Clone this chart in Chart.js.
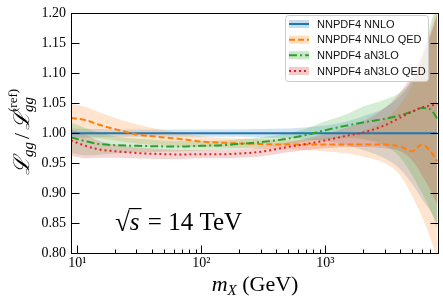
<!DOCTYPE html>
<html>
<head>
<meta charset="utf-8">
<script src="https://cdn.jsdelivr.net/npm/chart.js@4.4.1/dist/chart.umd.min.js"></script>
<style>
  html, body { margin: 0; padding: 0; background: #fff; }
  canvas { display: block; }
</style>
</head>
<body>
<canvas id="lumi" width="443" height="302"></canvas>
<script>
// ── data (m_X in GeV, ratio to reference lumi) ──
const mass = [8.9, 12, 15, 20, 30, 50, 70, 100, 150, 200, 300, 500, 700, 1000, 1500, 2000, 3000, 4000, 5000, 6000, 7000, 8000];

const nnlo     = [1, 1, 1, 1, 1, 1, 1, 1, 1, 1, 1, 1, 1, 1, 1, 1, 1, 1, 1, 1, 1, 1];
const nnloHi   = [1.008, 1.007, 1.007, 1.006, 1.006, 1.006, 1.006, 1.006, 1.006, 1.006, 1.007, 1.008, 1.010, 1.013, 1.020, 1.028, 1.042, 1.062, 1.088, 1.120, 1.160, 1.200];
const nnloLo   = [0.992, 0.993, 0.993, 0.994, 0.994, 0.994, 0.994, 0.994, 0.994, 0.994, 0.993, 0.992, 0.990, 0.987, 0.980, 0.972, 0.958, 0.940, 0.915, 0.890, 0.870, 0.850];

const nnloQed   = [1.026, 1.021, 1.014, 1.007, 0.998, 0.993, 0.990, 0.986, 0.984, 0.983, 0.982, 0.981, 0.981, 0.981, 0.981, 0.981, 0.981, 0.978, 0.970, 0.981, 0.970, 0.953];
const nnloQedHi = [1.049, 1.043, 1.035, 1.026, 1.015, 1.005, 1.000, 0.995, 0.992, 0.991, 0.990, 0.989, 0.990, 0.992, 0.997, 1.004, 1.022, 1.048, 1.080, 1.125, 1.170, 1.215];
const nnloQedLo = [1.002, 0.996, 0.992, 0.988, 0.983, 0.980, 0.978, 0.977, 0.976, 0.975, 0.974, 0.973, 0.972, 0.970, 0.966, 0.961, 0.950, 0.930, 0.895, 0.860, 0.825, 0.790];

const an3lo   = [0.993, 0.986, 0.982, 0.980, 0.979, 0.978, 0.978, 0.979, 0.980, 0.982, 0.985, 0.991, 0.997, 1.005, 1.013, 1.018, 1.024, 1.030, 1.036, 1.042, 1.040, 1.024];
const an3loHi = [1.018, 1.008, 1.001, 0.995, 0.991, 0.988, 0.987, 0.987, 0.988, 0.990, 0.993, 1.000, 1.008, 1.020, 1.032, 1.044, 1.056, 1.068, 1.090, 1.130, 1.180, 1.225];
const an3loLo = [0.967, 0.963, 0.964, 0.966, 0.968, 0.969, 0.970, 0.971, 0.972, 0.974, 0.977, 0.982, 0.986, 0.990, 0.992, 0.990, 0.980, 0.960, 0.930, 0.900, 0.872, 0.840];

const an3loQed   = [0.988, 0.978, 0.973, 0.970, 0.967, 0.965, 0.9645, 0.965, 0.965, 0.966, 0.969, 0.977, 0.982, 0.988, 0.996, 1.001, 1.013, 1.026, 1.036, 1.043, 1.046, 1.048];
const an3loQedHi = [1.006, 0.996, 0.987, 0.981, 0.976, 0.973, 0.972, 0.972, 0.972, 0.973, 0.977, 0.985, 0.991, 0.999, 1.010, 1.020, 1.042, 1.068, 1.098, 1.130, 1.165, 1.200];
const an3loQedLo = [0.962, 0.958, 0.959, 0.959, 0.958, 0.957, 0.957, 0.958, 0.958, 0.959, 0.961, 0.968, 0.972, 0.975, 0.977, 0.977, 0.975, 0.970, 0.955, 0.930, 0.905, 0.880];

const seriesNames = ['NNPDF4 NNLO', 'NNPDF4 NNLO QED', 'NNPDF4 aN3LO', 'NNPDF4 aN3LO QED'];
const yTicks = [0.80, 0.85, 0.90, 0.95, 1.00, 1.05, 1.10, 1.15, 1.20];
const xMajor = [10, 100, 1000];
const xMinor = [20, 30, 40, 50, 60, 70, 80, 90, 200, 300, 400, 500, 600, 700, 800, 900, 2000, 3000, 4000, 5000, 6000, 7000];
const xTickText = { 10: '10\u00B9', 100: '10\u00B2', 1000: '10\u00B3' };

// ── styles ──
const rgb = { blue: '31,119,180', orange: '255,127,14', green: '44,160,44', red: '214,39,40' };
const styles = [
  { c: rgb.blue,   dash: [] },
  { c: rgb.orange, dash: [6, 3] },
  { c: rgb.green,  dash: [8, 3, 2, 3] },
  { c: rgb.red,    dash: [2, 3] },
];

const pts = ys => mass.map((m, i) => ({ x: m, y: ys[i] }));

function band(hi, lo, c, order) {
  const base = { pointRadius: 0, borderWidth: 0, cubicInterpolationMode: 'monotone', order };
  return [
    { ...base, data: pts(hi), fill: '+1', backgroundColor: `rgba(${c},0.2)` },
    { ...base, data: pts(lo), fill: false },
  ];
}
function line(ys, st, order) {
  return { data: pts(ys), borderColor: `rgb(${st.c})`, borderWidth: 2, borderDash: st.dash,
           pointRadius: 0, fill: false, cubicInterpolationMode: 'monotone', order };
}

const datasets = [
  ...band(nnloHi, nnloLo, rgb.blue, 20),
  ...band(nnloQedHi, nnloQedLo, rgb.orange, 19),
  ...band(an3loHi, an3loLo, rgb.green, 18),
  ...band(an3loQedHi, an3loQedLo, rgb.red, 17),
  line(nnlo, styles[0], 4),
  line(nnloQed, styles[1], 3),
  line(an3lo, styles[2], 2),
  line(an3loQed, styles[3], 1),
];

const SERIF = '"Liberation Serif", "DejaVu Serif", serif';

// draws a run of text pieces starting at x, returns the end x
function run(ctx, x, y, parts) {
  for (const p of parts) {
    ctx.font = p.f;
    ctx.fillText(p.t, x, y + (p.dy || 0));
    x += ctx.measureText(p.t).width + (p.kern || 0);
  }
  return x;
}
function runWidth(ctx, parts) {
  let w = 0;
  for (const p of parts) { ctx.font = p.f; w += ctx.measureText(p.t).width + (p.kern || 0); }
  return w;
}

const decor = {
  id: 'decor',
  afterDraw(chart) {
    const { ctx, chartArea: a, scales: { x, y } } = chart;
    const L = Math.round(a.left) + 0.5, R = Math.round(a.right) + 0.5;
    const T = Math.round(a.top) + 0.5, B = Math.round(a.bottom) + 0.5;
    ctx.save();
    ctx.strokeStyle = '#000'; ctx.lineWidth = 1; ctx.setLineDash([]);
    // inward ticks
    ctx.beginPath();
    for (const v of yTicks) {
      const py = Math.round(y.getPixelForValue(v)) + 0.5;
      ctx.moveTo(L, py); ctx.lineTo(L + 8, py);
      ctx.moveTo(R, py); ctx.lineTo(R - 8, py);
    }
    for (const v of xMajor) {
      const px = Math.round(x.getPixelForValue(v)) + 0.5;
      ctx.moveTo(px, B); ctx.lineTo(px, B - 8);
    }
    for (const v of xMinor) {
      const px = Math.round(x.getPixelForValue(v)) + 0.5;
      ctx.moveTo(px, B); ctx.lineTo(px, B - 4);
    }
    ctx.stroke();
    ctx.strokeRect(L, T, R - L, B - T);

    ctx.fillStyle = '#000';
    ctx.textBaseline = 'alphabetic';
    ctx.textAlign = 'left';

    // x axis title: m_X (GeV)
    const xt = [
      { t: 'm', f: `italic 22px ${SERIF}` },
      { t: 'X', f: `italic 15px ${SERIF}`, dy: 4 },
      { t: ' (GeV)', f: `22px ${SERIF}` },
    ];
    run(ctx, 255 - runWidth(ctx, xt) / 2, 291, xt);

    // y axis title: L_gg / L_gg^(ref)
    ctx.save();
    ctx.translate(29, 132);
    ctx.rotate(-Math.PI / 2);
    const big = `italic 22px "DejaVu Serif", ${SERIF}`;
    const sub = `italic 15px ${SERIF}`;
    const sup = `13px ${SERIF}`;
    const slash = `22px ${SERIF}`;
    ctx.font = big; const wL = ctx.measureText('\u2112').width;
    ctx.font = sub; const wg = ctx.measureText('gg').width;
    ctx.font = slash; const wS = ctx.measureText('/').width + 6;
    ctx.font = sup; const wr = ctx.measureText('(ref)').width;
    const total = wL + wg + wS + wL + Math.max(wg, wr);
    let u = -total / 2;
    ctx.font = big; ctx.fillText('\u2112', u, 0); u += wL;
    ctx.font = sub; ctx.fillText('gg', u, 4); u += wg;
    ctx.font = slash; ctx.fillText('/', u + 3, 0); u += wS;
    ctx.font = big; ctx.fillText('\u2112', u, 0); u += wL;
    ctx.font = sub; ctx.fillText('gg', u, 4);
    ctx.font = sup; ctx.fillText('(ref)', u, -12);
    ctx.restore();

    // sqrt(s) = 14 TeV
    const bx = 115, by = 230;
    ctx.font = `27px ${SERIF}`;
    ctx.fillText('\u221A', bx, by + 1);
    const sx = bx + ctx.measureText('\u221A').width;
    ctx.font = `italic 25px ${SERIF}`;
    ctx.fillText('s', sx, by);
    const sw = ctx.measureText('s').width;
    ctx.fillRect(sx - 1, by - 22, sw + 3, 1.2);
    ctx.font = `25px ${SERIF}`;
    ctx.fillText(' = 14 TeV', sx + sw + 2, by);

    // legend
    ctx.beginPath();
    ctx.roundRect(285.5, 15.5, 143, 66, 3);
    ctx.fillStyle = 'rgba(255,255,255,0.8)';
    ctx.fill();
    ctx.strokeStyle = '#cccccc';
    ctx.stroke();
    const rows = [24, 39.7, 55.3, 71];
    ctx.textBaseline = 'middle';
    seriesNames.forEach((name, i) => {
      const st = styles[i], ry = rows[i];
      ctx.fillStyle = `rgba(${st.c},0.25)`;
      ctx.fillRect(289, ry - 4, 20, 8);
      ctx.strokeStyle = `rgb(${st.c})`;
      ctx.lineWidth = 2;
      ctx.setLineDash(st.dash);
      ctx.beginPath(); ctx.moveTo(289, ry); ctx.lineTo(309, ry); ctx.stroke();
      ctx.setLineDash([]);
      ctx.fillStyle = '#111';
      ctx.font = '11px "Liberation Sans", Arial, sans-serif';
      ctx.fillText(name, 317, ry + 0.5);
    });
    ctx.restore();
  }
};

new Chart(document.getElementById('lumi'), {
  type: 'line',
  data: { datasets },
  options: {
    responsive: false,
    animation: false,
    devicePixelRatio: 1,
    layout: { padding: { left: 0, right: 5.5, top: 9, bottom: 0 } },
    plugins: { legend: { display: false }, tooltip: { enabled: false } },
    scales: {
      x: {
        type: 'logarithmic', min: 8.9, max: 8000,
        grid: { display: false, drawTicks: false }, border: { display: false },
        afterBuildTicks: s => { s.ticks = xMajor.map(v => ({ value: v, major: true })); },
        afterFit: s => { s.height = 49; },
        ticks: { color: '#000', padding: 2, maxRotation: 0, autoSkip: false,
                 font: { family: SERIF, size: 14 },
                 callback: v => xTickText[v] || '' }
      },
      y: {
        min: 0.8, max: 1.2,
        grid: { display: false, drawTicks: false }, border: { display: false },
        afterBuildTicks: s => { s.ticks = yTicks.map(v => ({ value: v })); },
        afterFit: s => { s.width = 71; },
        ticks: { color: '#000', padding: 5, font: { family: SERIF, size: 14 },
                 callback: v => Number(v).toFixed(2) }
      }
    }
  },
  plugins: [decor]
});
</script>
</body>
</html>
